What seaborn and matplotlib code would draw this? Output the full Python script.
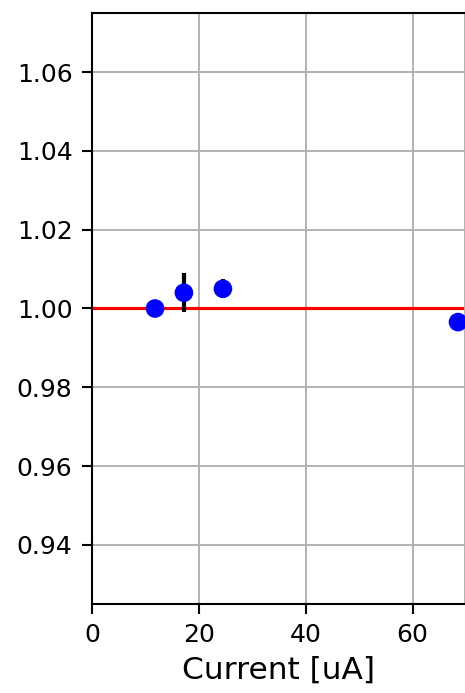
import matplotlib
matplotlib.use("Agg")
import matplotlib.pyplot as plt
import seaborn as sns
import pandas as pd

current = [11.8, 17.2, 24.5, 68.5]
ratio = [1.0000, 1.0040, 1.0050, 0.99655]
ratio_err = [0.0003, 0.0050, 0.0024, 0.0003]
xticks = [0, 20, 40, 60]
yticks = [0.94, 0.96, 0.98, 1.00, 1.02, 1.04, 1.06]

df = pd.DataFrame({"current": current, "ratio": ratio, "err": ratio_err})

sns.set_style("ticks")
plt.rcParams["font.family"] = ["DejaVu Sans"]

W, H, DPI = 466, 693, 150
fig = plt.figure(figsize=(W / DPI, H / DPI), dpi=DPI)
ax = fig.add_axes([92 / W, 89 / H, 373.5 / W, 591 / H])

ax.grid(True, color="#b0b0b0", linewidth=0.9, zorder=0)
ax.set_axisbelow(True)
ax.axhline(1.0, color="red", linewidth=1.5, zorder=2)
ax.errorbar(df["current"], df["ratio"], yerr=df["err"], fmt="none",
            ecolor="black", elinewidth=2, zorder=3)
sns.scatterplot(data=df, x="current", y="ratio", color="blue", s=80,
                edgecolor="none", zorder=4, ax=ax, clip_on=False)

ax.set_xlim(0, 69.9)
ax.set_ylim(0.925, 1.075)
ax.set_xticks(xticks)
ax.set_yticks(yticks)
ax.set_yticklabels([f"{v:.2f}" for v in yticks])
ax.tick_params(labelsize=12, width=1.0, length=4.8, pad=4.5, colors="black")
ax.set_xlabel("Current [uA]", fontsize=15, color="black")
ax.set_ylabel("")
for name, s in ax.spines.items():
    s.set_visible(True)
    s.set_color("black")
    s.set_linewidth(1.0)
ax.spines["right"].set_color("#b0b0b0")
ax.spines["right"].set_linewidth(0.9)

fig.savefig("out.png", dpi=DPI)
